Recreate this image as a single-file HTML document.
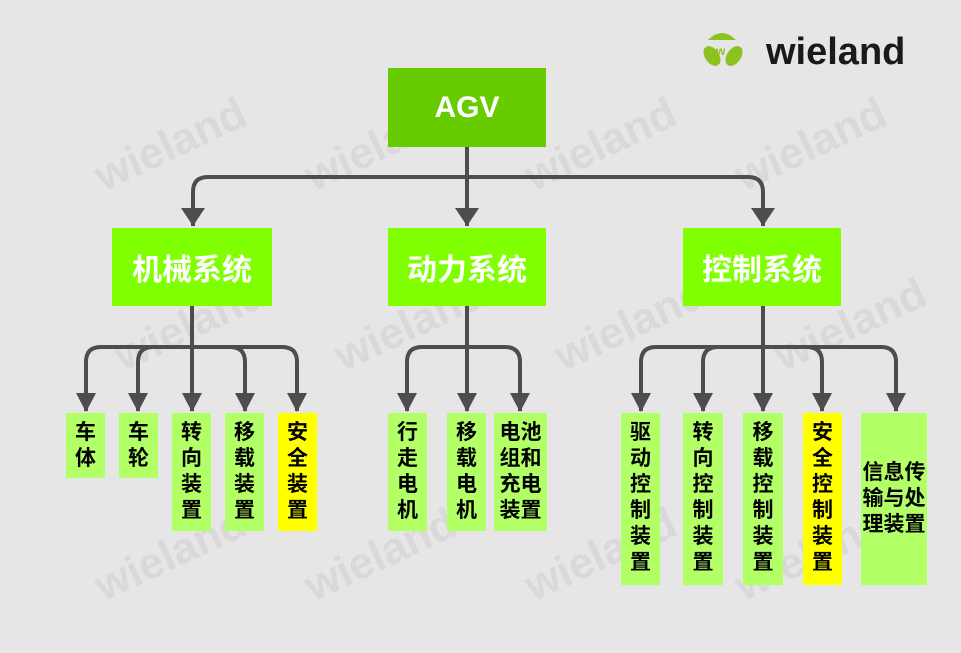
<!DOCTYPE html>
<html><head><meta charset="utf-8"><style>
body{margin:0;width:961px;height:653px;background:#e6e6e6;overflow:hidden;position:relative;font-family:"Liberation Sans","Noto Sans CJK SC",sans-serif;}
.b{position:absolute;display:flex;align-items:center;justify-content:center;font-weight:bold;}
.l1{background:#66cc00;color:#fff;font-size:30px;}
.l2{background:#80ff00;color:#fff;font-size:30px;}
.l3{background:#b3ff66;color:#000;font-size:21px;line-height:26px;align-items:flex-start;padding-top:7px;box-sizing:border-box;text-align:center;}
.y{background:#ffff00;}
.wm{position:absolute;color:#d9d9d9;font-weight:bold;font-size:44px;transform:rotate(-25deg);}
</style></head><body>
<div class="wm" style="left:90px;top:120px">wieland</div>
<div class="wm" style="left:300px;top:120px">wieland</div>
<div class="wm" style="left:520px;top:120px">wieland</div>
<div class="wm" style="left:730px;top:120px">wieland</div>
<div class="wm" style="left:110px;top:300px">wieland</div>
<div class="wm" style="left:330px;top:300px">wieland</div>
<div class="wm" style="left:550px;top:300px">wieland</div>
<div class="wm" style="left:770px;top:300px">wieland</div>
<div class="wm" style="left:90px;top:530px">wieland</div>
<div class="wm" style="left:300px;top:530px">wieland</div>
<div class="wm" style="left:520px;top:530px">wieland</div>
<div class="wm" style="left:730px;top:530px">wieland</div>
<svg width="961" height="653" style="position:absolute;left:0;top:0">
<g fill="none" stroke="#4d4d4d" stroke-width="4">
<path d="M467 147V177M193 226V192Q193 177 208 177H748Q763 177 763 192V226M467 177V226"/>
<path d="M192 306V347M86 411V362Q86 347 101 347H282Q297 347 297 362V411M138 411V362Q138 347 153 347M192 347V411M245 411V362Q245 347 230 347"/>
<path d="M467 306V411M407 411V362Q407 347 422 347H505Q520 347 520 362V411"/>
<path d="M763 306V411M641 411V362Q641 347 656 347H881Q896 347 896 362V411M703 411V362Q703 347 718 347M822 411V362Q822 347 807 347"/>
</g>
<g fill="#4d4d4d">
<path d="M181 208L193 226L205 208Z M455 208L467 226L479 208Z M751 208L763 226L775 208Z"/>
<path d="M76 393L86 412L96 393Z M128 393L138 412L148 393Z M182 393L192 412L202 393Z M235 393L245 412L255 393Z M287 393L297 412L307 393Z"/>
<path d="M397 393L407 412L417 393Z M457 393L467 412L477 393Z M510 393L520 412L530 393Z"/>
<path d="M631 393L641 412L651 393Z M693 393L703 412L713 393Z M753 393L763 412L773 393Z M812 393L822 412L832 393Z M886 393L896 412L906 393Z"/>
</g>
<g fill="#8cc21f">
<path d="M708 40Q722 26 736 40Z"/>
<ellipse cx="712" cy="56" rx="7" ry="11" transform="rotate(-35 712 56)"/>
<ellipse cx="734" cy="56" rx="7" ry="11" transform="rotate(35 734 56)"/>
</g>
<text x="716" y="55" font-size="12" font-weight="bold" fill="#8cc21f" font-family="Liberation Sans">w</text>
<text x="766" y="64" font-size="38" font-weight="bold" fill="#1a1a1a" font-family="Liberation Sans">wieland</text>
</svg>
<div class="b l1" style="left:388px;top:68px;width:158px;height:79px">AGV</div>
<div class="b l2" style="left:112px;top:228px;width:160px;height:78px">机械系统</div>
<div class="b l2" style="left:388px;top:228px;width:158px;height:78px">动力系统</div>
<div class="b l2" style="left:683px;top:228px;width:158px;height:78px">控制系统</div>
<div class="b l3" style="left:66px;top:413px;width:39px;height:65px">车<br>体</div>
<div class="b l3" style="left:119px;top:413px;width:39px;height:65px">车<br>轮</div>
<div class="b l3" style="left:172px;top:413px;width:39px;height:118px">转<br>向<br>装<br>置</div>
<div class="b l3" style="left:225px;top:413px;width:39px;height:118px">移<br>载<br>装<br>置</div>
<div class="b l3 y" style="left:278px;top:413px;width:39px;height:118px">安<br>全<br>装<br>置</div>
<div class="b l3" style="left:388px;top:413px;width:39px;height:118px">行<br>走<br>电<br>机</div>
<div class="b l3" style="left:447px;top:413px;width:39px;height:118px">移<br>载<br>电<br>机</div>
<div class="b l3" style="left:494px;top:413px;width:53px;height:118px">电池<br>组和<br>充电<br>装置</div>
<div class="b l3" style="left:621px;top:413px;width:39px;height:172px">驱<br>动<br>控<br>制<br>装<br>置</div>
<div class="b l3" style="left:683px;top:413px;width:40px;height:172px">转<br>向<br>控<br>制<br>装<br>置</div>
<div class="b l3" style="left:743px;top:413px;width:40px;height:172px">移<br>载<br>控<br>制<br>装<br>置</div>
<div class="b l3 y" style="left:803px;top:413px;width:39px;height:172px">安<br>全<br>控<br>制<br>装<br>置</div>
<div class="b l3" style="left:861px;top:413px;width:66px;height:172px;align-items:center;padding-top:0">信息传<br>输与处<br>理装置</div>
</body></html>
